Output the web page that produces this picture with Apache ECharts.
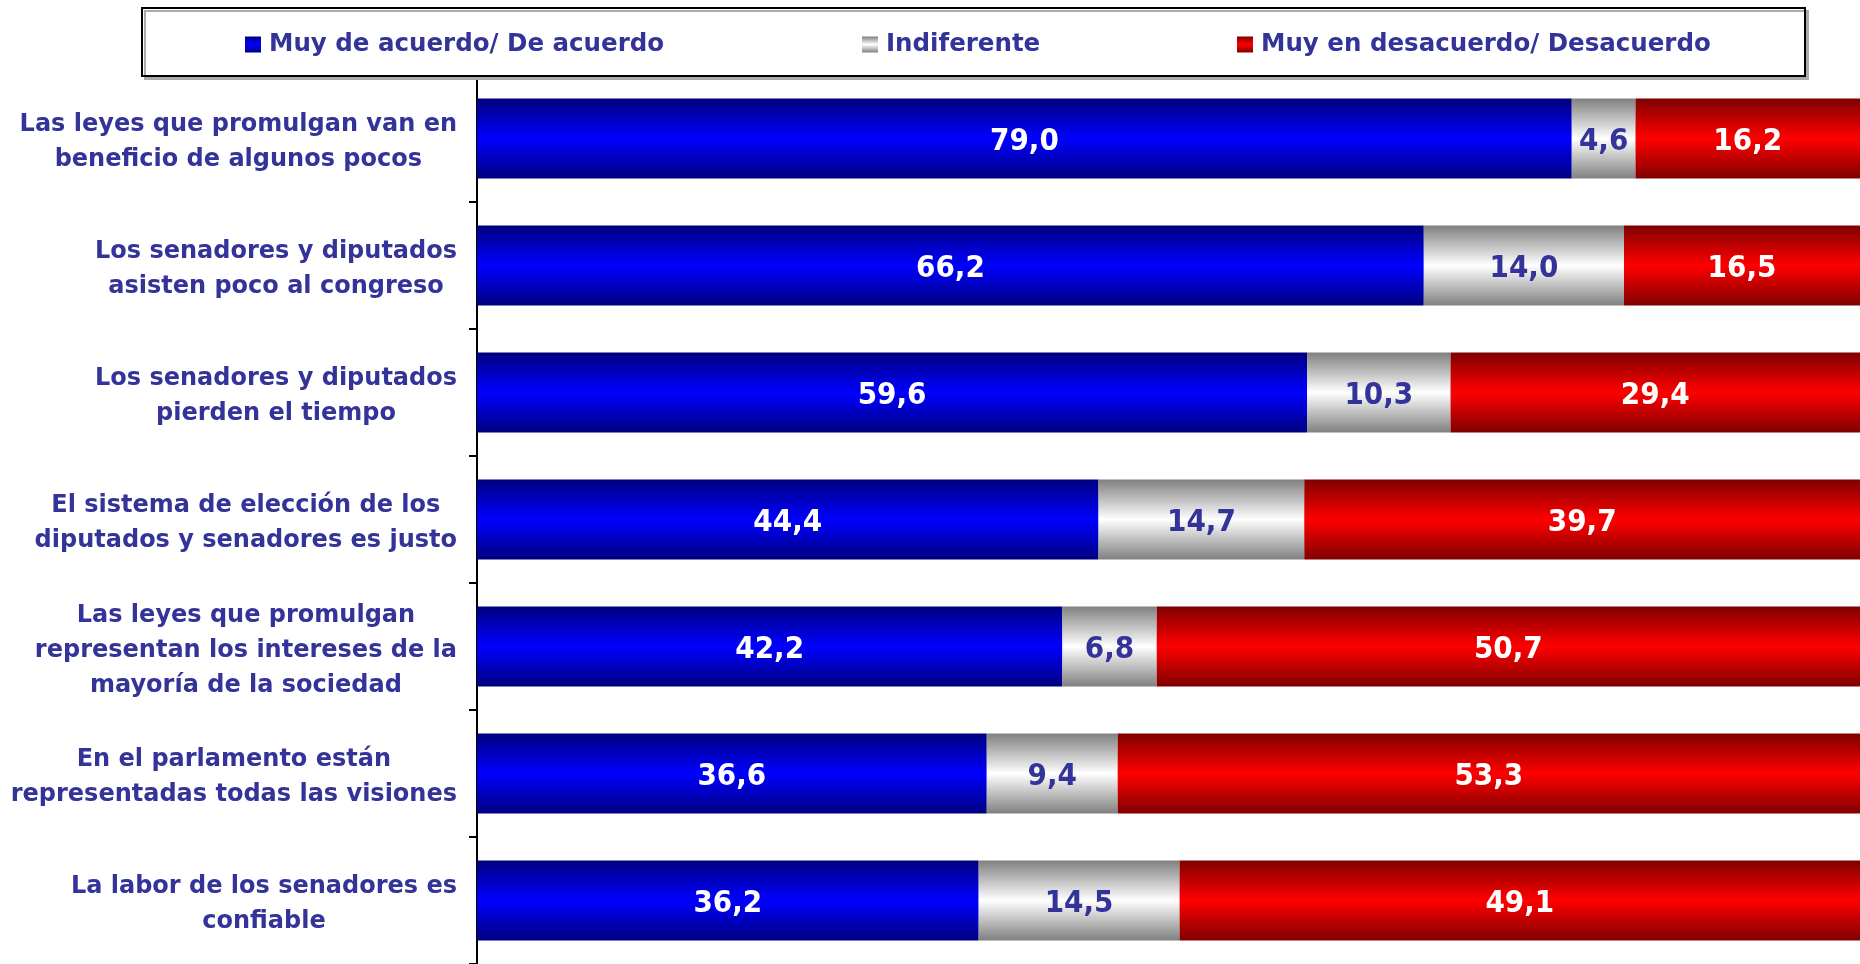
<!DOCTYPE html>
<html>
<head>
<meta charset="utf-8">
<script src="https://cdn.jsdelivr.net/npm/echarts@6/dist/echarts.min.js"></script>
<style>html,body{margin:0;padding:0;background:#fff}#c{width:1860px;height:964px}</style>
</head>
<body>
<div id="c"></div>
<script>
const categories = [
  'Las leyes que promulgan van en\nbeneficio de algunos pocos',
  'Los senadores y diputados\nasisten poco al congreso',
  'Los senadores y diputados\npierden el tiempo',
  'El sistema de elección de los\ndiputados y senadores es justo',
  'Las leyes que promulgan\nrepresentan los intereses de la\nmayoría de la sociedad',
  'En el parlamento están\nrepresentadas todas las visiones',
  'La labor de los senadores es\nconfiable'
];
const seriesNames = ['Muy de acuerdo/ De acuerdo', 'Indiferente', 'Muy en desacuerdo/ Desacuerdo'];
const agree    = [79.0, 66.2, 59.6, 44.4, 42.2, 36.6, 36.2];
const indiff   = [4.6, 14.0, 10.3, 14.7, 6.8, 9.4, 14.5];
const disagree = [16.2, 16.5, 29.4, 39.7, 50.7, 53.3, 49.1];

const totals = agree.map((v, i) => v + indiff[i] + disagree[i]);
const share = arr => arr.map((v, i) => v / totals[i] * 100);
const fmt = v => v.toFixed(1).replace('.', ',');
const FONT = '"DejaVu Sans", sans-serif';
const FONT_C = '"DejaVu Sans Condensed", "DejaVu Sans", sans-serif';
const TXT = '#333399';

function grad(dark, light) {
  return new echarts.graphic.LinearGradient(0, 0, 0, 1, [
    {offset: 0, color: dark}, {offset: 0.5, color: light}, {offset: 1, color: dark}
  ]);
}
const colors = [grad('#000080', '#0000FF'), grad('#808080', '#FFFFFF'), grad('#800000', '#FF0000')];
const labelColors = ['#FFFFFF', TXT, '#FFFFFF'];
const raws = [agree, indiff, disagree];

const chart = echarts.init(document.getElementById('c'), null, {renderer: 'canvas'});
const legendLeft = [245, 862, 1237];

chart.setOption({
  animation: false,
  graphic: [{
    type: 'rect', z: 3, silent: true,
    shape: {x: 142, y: 8, width: 1663, height: 68},
    style: {fill: '#fff', stroke: '#000', lineWidth: 2, shadowColor: '#aaa', shadowOffsetX: 3, shadowOffsetY: 3, shadowBlur: 0}
  }],
  legend: seriesNames.map((n, i) => ({
    data: [n], left: legendLeft[i], top: 32, padding: 0, z: 5,
    itemWidth: 16, itemHeight: 16, icon: 'rect',
    textStyle: {color: TXT, fontFamily: FONT, fontWeight: 'bold', fontSize: 24.5, padding: [0, 0, 0, 3]}
  })),
  grid: {left: 477, width: 1385, top: 75, height: 889},
  xAxis: {type: 'value', min: 0, max: 100, show: false},
  yAxis: {
    type: 'category', data: categories, inverse: true,
    axisLine: {show: true, lineStyle: {color: '#000', width: 2}},
    axisTick: {show: true, length: 8, lineStyle: {color: '#000', width: 2}},
    axisLabel: {
      margin: 20, align: 'right',
      formatter: v => v.split('\n').map(l => '{c|' + l + '}').join('\n'),
      rich: {c: {align: 'center', color: TXT, fontFamily: FONT, fontWeight: 'bold', fontSize: 24, lineHeight: 35, padding: [8, 0, 0, 0]}}
    }
  },
  series: seriesNames.map((n, s) => ({
    name: n, type: 'bar', stack: 'total', barCategoryGap: '37%',
    data: share(raws[s]),
    itemStyle: {color: colors[s]},
    label: {
      show: true, position: 'inside', offset: [0, 3],
      formatter: p => fmt(raws[s][p.dataIndex]),
      color: labelColors[s], fontFamily: FONT_C, fontWeight: 'bold', fontSize: 31
    }
  }))
});
</script>
</body>
</html>
